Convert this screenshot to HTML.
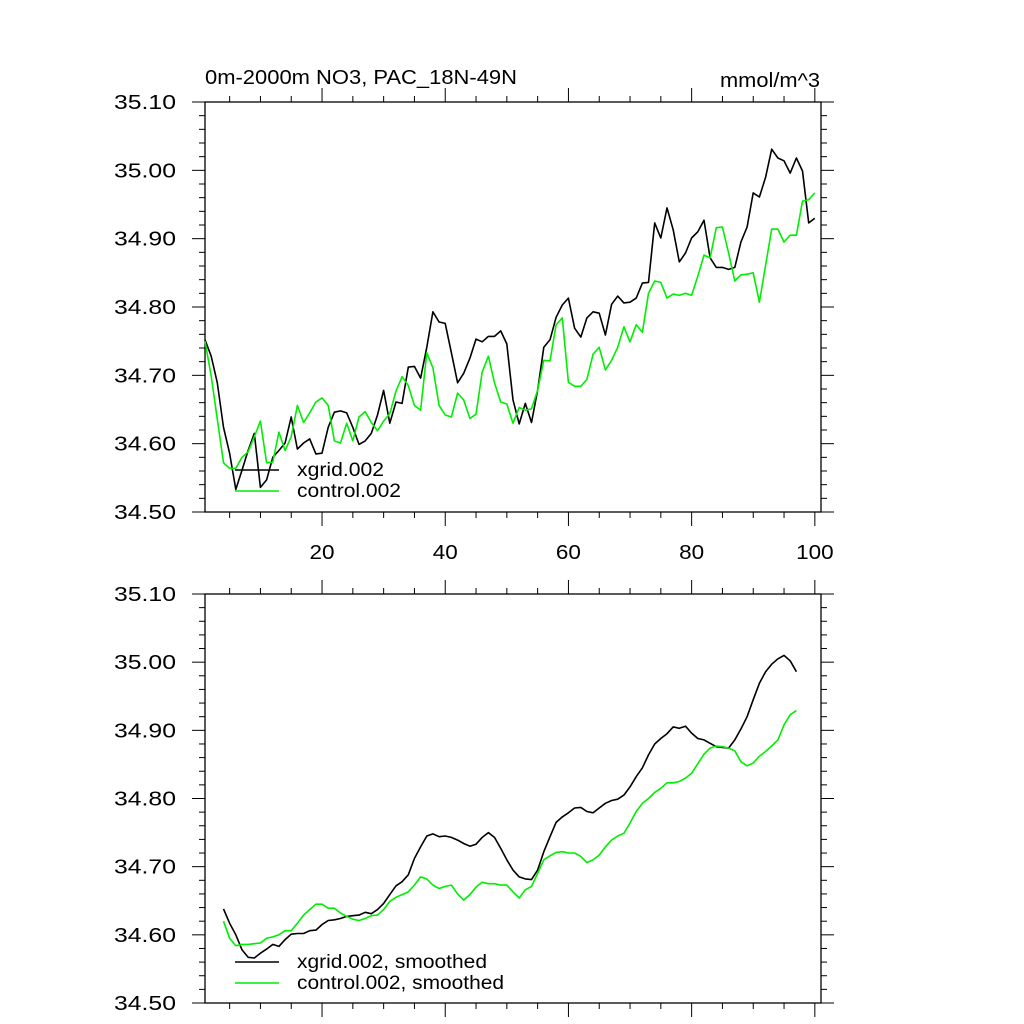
<!DOCTYPE html>
<html><head><meta charset="utf-8"><style>
html,body{margin:0;padding:0;background:#fff;}
svg{display:block;font-family:"Liberation Sans",Arial,sans-serif;}
</style></head><body>
<svg id="chart" width="1024" height="1024" viewBox="0 0 1024 1024"></svg>
<script>
const xTicks=[20,40,60,80,100];
const xTickLabels=["20","40","60","80","100"];
const yTicks=[34.5,34.6,34.7,34.8,34.9,35.0,35.1];
const yTickLabels=["34.50","34.60","34.70","34.80","34.90","35.00","35.10"];
const xgridRaw=[34.752,34.728,34.689,34.624,34.586,34.533,34.561,34.590,34.615,34.536,34.547,34.580,34.590,34.601,34.639,34.592,34.601,34.607,34.585,34.586,34.624,34.646,34.648,34.645,34.624,34.599,34.604,34.615,34.642,34.678,34.630,34.661,34.659,34.712,34.713,
34.696,34.741,34.793,34.778,34.776,34.733,34.689,34.703,34.725,34.753,34.749,34.757,34.757,34.765,34.746,34.664,34.629,34.659,34.631,34.678,34.741,34.752,34.785,34.803,34.813,34.769,34.756,34.784,34.793,34.791,34.759,34.804,34.816,34.806,
34.807,34.813,34.835,34.836,34.923,34.901,34.945,34.913,34.866,34.879,34.901,34.910,34.927,34.872,34.858,34.858,34.855,34.858,34.895,34.917,34.967,34.961,34.990,35.031,35.018,35.014,34.996,35.018,34.999,34.923,34.930];
const controlRaw=[34.750,34.699,34.636,34.572,34.564,34.564,34.580,34.588,34.610,34.633,34.572,34.573,34.617,34.590,34.610,34.656,34.631,34.645,34.661,34.667,34.656,34.604,34.601,34.630,34.604,34.639,34.647,34.631,34.619,34.633,34.644,34.677,34.698,34.685,34.656,
34.649,34.733,34.711,34.656,34.642,34.639,34.674,34.664,34.637,34.643,34.705,34.728,34.689,34.661,34.658,34.630,34.653,34.649,34.651,34.678,34.722,34.721,34.774,34.784,34.690,34.684,34.684,34.694,34.731,34.741,34.708,34.722,34.741,34.771,
34.749,34.774,34.763,34.820,34.838,34.836,34.813,34.819,34.817,34.820,34.817,34.845,34.876,34.872,34.916,34.917,34.879,34.838,34.847,34.848,34.850,34.807,34.861,34.914,34.914,34.895,34.905,34.905,34.955,34.957,34.967];
const smoothStart=4;
const xgridSmooth=[34.638,34.617,34.600,34.578,34.567,34.566,34.573,34.579,34.586,34.583,34.593,34.601,34.602,34.602,34.606,34.607,34.615,34.621,34.622,34.624,34.627,34.628,34.629,34.633,34.631,34.637,34.646,34.659,34.672,34.678,34.688,34.712,34.729,34.745,34.748,34.744,34.745,34.743,34.739,34.734,34.730,34.733,34.743,34.750,34.743,34.727,34.710,34.695,34.685,
34.682,34.681,34.695,34.722,34.744,34.765,34.773,34.779,34.786,34.787,34.781,34.779,34.786,34.793,34.797,34.799,34.805,34.817,34.832,34.845,34.864,34.880,34.888,34.895,34.905,34.903,34.906,34.896,34.888,34.886,34.881,34.876,34.875,34.874,34.886,34.902,34.920,34.945,34.969,34.986,34.997,35.005,35.010,35.002,34.986];
const controlSmooth=[34.620,34.595,34.584,34.586,34.586,34.587,34.588,34.595,34.597,34.600,34.606,34.606,34.617,34.629,34.637,34.645,34.645,34.639,34.639,34.632,34.627,34.623,34.621,34.624,34.628,34.629,34.637,34.649,34.655,34.659,34.663,34.673,34.685,34.682,34.673,34.668,34.671,34.673,34.660,34.651,34.659,34.670,34.677,34.675,34.675,34.673,34.673,34.663,34.654,
34.666,34.671,34.690,34.710,34.716,34.721,34.722,34.720,34.720,34.715,34.706,34.710,34.717,34.729,34.739,34.745,34.749,34.764,34.781,34.793,34.800,34.809,34.815,34.823,34.823,34.825,34.830,34.837,34.851,34.865,34.874,34.877,34.876,34.874,34.870,34.854,34.848,34.852,34.862,34.869,34.877,34.886,34.908,34.923,34.929];

const NS="http://www.w3.org/2000/svg";
const svg=document.getElementById('chart');
function mk(tag,attrs,parent){const e=document.createElementNS(NS,tag);for(const k in attrs)e.setAttribute(k,attrs[k]);(parent||svg).appendChild(e);return e;}
const X0=205,X1=821,XMIN=1,XMAX=101;
function xs(v){return X0+(v-XMIN)/(XMAX-XMIN)*(X1-X0);}
function makeY(top,bot){return v=>bot-(v-34.5)/0.6*(bot-top);}

function panel(name,top,bot,showXLabels,series,legend){
  const ys=makeY(top,bot);
  const g=mk('g',{});
  
  
  const fr=mk('rect',{x:X0,y:top,width:X1-X0,height:bot-top,fill:'none',stroke:'#000','stroke-width':1.3},g);
  
  
  // y ticks
  for(let k=0;k<=30;k++){
    const v=34.5+k*0.02; const y=ys(v); const major=k%5===0; const L=major?13:6;
    const t1=mk('line',{x1:X0-L,y1:y,x2:X0,y2:y,stroke:'#000','stroke-width':1},g);
    
    
    const t2=mk('line',{x1:X1,y1:y,x2:X1+L,y2:y,stroke:'#000','stroke-width':1},g);
    
    
  }
  yTicks.forEach((v,i)=>{
    const t=mk('text',{x:176,y:ys(v)+7,'text-anchor':'end','font-size':20,textLength:62,lengthAdjust:'spacingAndGlyphs'},g);
    t.textContent=yTickLabels[i];
    
    
  });
  // x ticks
  for(let v=5;v<=100;v+=5){
    const x=xs(v); const major=v%20===0; const L=major?14:6;
    const a=mk('line',{x1:x,y1:bot,x2:x,y2:bot+L,stroke:'#000','stroke-width':1},g);
    
    
    const b=mk('line',{x1:x,y1:top-L,x2:x,y2:top,stroke:'#000','stroke-width':1},g);
    
    
  }
  if(showXLabels){
    xTicks.forEach((v,i)=>{
      const t=mk('text',{x:xs(v),y:bot+47,'text-anchor':'middle','font-size':20,textLength:xTickLabels[i].length*12.5,lengthAdjust:'spacingAndGlyphs'},g);
      t.textContent=xTickLabels[i];
      
      
    });
  }
  series.forEach(s=>{
    const pts=s.data.map((v,i)=>xs(s.start+i).toFixed(1)+','+ys(v).toFixed(1)).join(' ');
    const p=mk('polyline',{points:pts,fill:'none',stroke:s.color,'stroke-width':1.6,'stroke-linejoin':'round'},g);
    
    
  });
  legend.forEach(l=>{
    const ln=mk('line',{x1:235,y1:l.y,x2:279,y2:l.y,stroke:l.color,'stroke-width':1.6},g);
    
    
    const t=mk('text',{x:297,y:l.y+6,'font-size':19,textLength:l.w,lengthAdjust:'spacingAndGlyphs'},g);
    t.textContent=l.label;
    
    
  });
}
panel('top-panel',102,512,true,
  [{name:'xgrid-line',data:xgridRaw,start:1,color:'#000'},{name:'control-line',data:controlRaw,start:1,color:'#00ee00'}],
  [{y:470,color:'#000',label:'xgrid.002',w:87},{y:491,color:'#00ee00',label:'control.002',w:104}]);
panel('bottom-panel',594,1003,false,
  [{name:'xgrid-smoothed-line',data:xgridSmooth,start:smoothStart,color:'#000'},{name:'control-smoothed-line',data:controlSmooth,start:smoothStart,color:'#00ee00'}],
  [{y:962,color:'#000',label:'xgrid.002, smoothed',w:190},{y:983,color:'#00ee00',label:'control.002, smoothed',w:207}]);
const title=mk('text',{x:205,y:84,'font-size':20,textLength:312,lengthAdjust:'spacingAndGlyphs'});
title.textContent='0m-2000m NO3, PAC_18N-49N';


const units=mk('text',{x:820,y:87,'font-size':20,'text-anchor':'end',textLength:100,lengthAdjust:'spacingAndGlyphs'});
units.textContent='mmol/m^3';


</script>
</body></html>
